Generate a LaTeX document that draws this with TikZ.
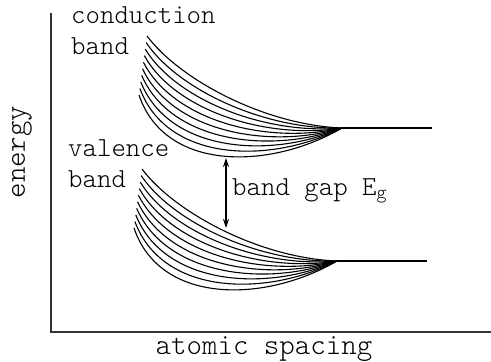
\documentclass[tikz,border=0pt]{standalone}
\usetikzlibrary{arrows.meta}

\begin{document}
\begin{tikzpicture}[
    x=1pt, y=-1pt,
    font=\ttfamily\fontseries{l}\fontsize{27.5}{30}\selectfont,
    axis/.style={draw=black!80, line width=1.4pt},
    axis label/.style={font=\ttfamily\fontseries{l}\fontsize{29.5}{32}\selectfont},
    level/.style={draw=black, line width=1.1pt},
    band label/.style={anchor=base west, inner sep=0pt},
    gap arrow/.style={{Stealth[length=9pt,width=6pt]}-{Stealth[length=9pt,width=6pt]},
                      line width=1.1pt}
]
    \useasboundingbox (0,0) rectangle (491,362);

    % axes
    \coordinate (origin) at (51,332);
    \coordinate (ytop) at (51,13);
    \coordinate (xend) at (491,332);
    \draw[axis] (ytop) -- (origin) -- (xend);
    \node[axis label, rotate=90] (ylabel) at (22,152) {energy};
    \node[axis label, anchor=base] (xlabel) at (264,354) {atomic spacing};

    % the two bands, each a fan of levels
    \foreach \dx/\dy/\name in {0/0/cond,-5/133/val} {
        \begin{scope}[shift={(\dx,\dy)}]
            \coordinate (\name) at (342,128);
            \foreach \i in {0,...,9} {
                \pgfmathsetmacro\f{\i/9}
                \draw[level] ({147-8*\f},{36+59*\f})
                    .. controls ({180-15*\f},{80+92*\f})
                    and ({265+5*\f},{125+45*\f}) .. (\name);
            }
            \coordinate (\name end) at (432,128);
            \draw[level] (\name) -- (\name end);
        \end{scope}
    }

    \node[band label] (condA) at (71,23) {conduction};
    \node[band label] (condB) at (71,54) {band};
    \node[band label] (valA) at (68,156) {valence};
    \node[band label] (valB) at (68,187) {band};

    % gap
    \coordinate (gaptop) at (226,158);
    \coordinate (gapbot) at (226,228);
    \draw[gap arrow] (gaptop) -- (gapbot);
    \node[band label] (gaplabel) at (232,195) {band gap E\textsubscript{g}};
\end{tikzpicture}
\end{document}
